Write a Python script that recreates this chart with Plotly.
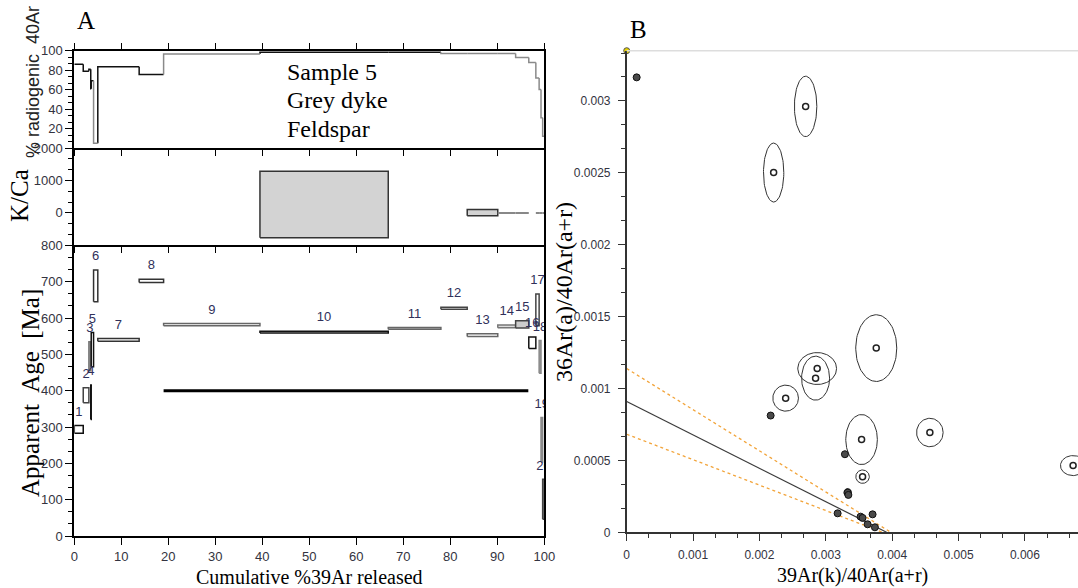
import numpy as np
import plotly.graph_objects as go

W, H = 1078, 588

# ---------------- Step-heating results: sample 5, grey dyke, feldspar ----------------
step_no = list(range(1, 21))
cum_start = [0.0, 1.9, 3.1, 3.5, 3.6, 4.1, 5.0, 13.8, 19.0, 39.5,
             66.8, 78.0, 83.6, 90.1, 93.9, 96.7, 98.2, 98.9, 99.3, 99.65]
cum_end = cum_start[1:] + [100.0]
age_ma = [293.5, 387.5, 495, 368.5, 513, 688.5, 540, 702.5, 582, 561.5,
          571.5, 627, 553, 577, 582.5, 532, 622.5, 493, 265, 101]
age_err = [10.5, 20.5, 40, 47.5, 47, 43.5, 4, 4.5, 3, 2.5,
           2.5, 3, 3.5, 4, 10, 15.5, 43.5, 45, 61, 55]
rad40_pct = [86, 79, 81, 61, 69, 5, 83.5, 75.5, 96.5, 98.5,
             98.5, 97, 97, 97, 93, 88, 72, 60, 31, 12]

# K/Ca for the steps where it could be determined
kca_steps = [10, 13, 14, 15, 17, 18, 19, 20]
kca_val = [260, 10, 0, 0, 0, 0, 0, 0]
kca_err = [1027, 95, 0, 0, 0, 0, 0, 0]

# plateau-style reference age
plateau_age = 400
plateau_from, plateau_to = 19.0, 96.6

# ---------------- Inverse isochron ----------------
atm_ratio = 1 / 298.56
# steps excluded from the regression (open symbols, 1-sigma ellipses)
excl_x = [0.002696, 0.002214, 0.002395, 0.00287, 0.002846, 0.00376, 0.003539, 0.004568, 0.003554, 0.006726]
excl_y = [0.002962, 0.002502, 0.000933, 0.001139, 0.001072, 0.001281, 0.000645, 0.000694, 0.000387, 0.000464]
excl_sx = [0.000169, 0.000153, 0.000193, 0.000292, 0.000211, 0.000309, 0.000238, 0.000200, 0.000102, 0.000190]
excl_sy = [0.000210, 0.000205, 0.0000905, 0.000111, 0.000153, 0.000232, 0.000174, 0.0000989, 0.0000467, 0.0000696]
# steps used in the regression (filled symbols)
incl_x = [0.00015, 0.002169, 0.003288, 0.00333, 0.00334, 0.003178, 0.003524, 0.003554, 0.003705, 0.00363, 0.00374]
incl_y = [0.003164, 0.000812, 0.000543, 0.000276, 0.00026, 0.000132, 0.000109, 0.0001, 0.000125, 0.0000557, 0.0000348]
incl_sx = [0, 0, 0, 0.0000573, 0, 0, 0, 0, 0, 0, 0]
incl_sy = [0, 0, 0, 0.0000292, 0, 0, 0, 0, 0, 0, 0]
# regression line and its confidence envelope: (y-intercept, x-intercept)
fit_line = (0.000910, 0.003916)
env_upper = (0.001139, 0.003980)
env_lower = (0.000682, 0.003855)

# ---------------- styling per step ----------------
box_line = ['#111', '#444', '#777', '#111', '#111', '#333', '#333', '#333', '#666', '#111',
            '#666', '#444', '#666', '#777', '#444', '#111', '#444', '#888', '#888', '#444']
box_fill = ['white', 'white', '#9a9a9a', 'white', 'white', 'white', 'white', 'white', 'white', 'white',
            'white', 'white', 'white', '#dcdcdc', '#cccccc', 'white', 'white', '#a0a0a0', '#a0a0a0', 'white']
rad_grey = {6, 9, 12, 13, 14, 15, 16, 17, 18, 19, 20}

SERIF = 'Liberation Serif, Times New Roman, serif'
SANS = 'Liberation Sans, Arial, sans-serif'
TICK_COL = '#333340'
LABEL_COL = '#30305a'

fig = go.Figure()

# --- age spectrum boxes ---
for i in range(len(step_no)):
    x0, x1 = cum_start[i], cum_end[i]
    lo, hi = age_ma[i] - age_err[i], age_ma[i] + age_err[i]
    fig.add_trace(go.Scatter(
        x=[x0, x1, x1, x0, x0], y=[lo, lo, hi, hi, lo], mode='lines',
        fill='toself', fillcolor=box_fill[i],
        line=dict(color=box_line[i], width=1.5), xaxis='x', yaxis='y',
        hoverinfo='skip', showlegend=False))

fig.add_trace(go.Scatter(x=[plateau_from, plateau_to], y=[plateau_age, plateau_age], mode='lines',
                         line=dict(color='black', width=3), xaxis='x', yaxis='y',
                         hoverinfo='skip', showlegend=False))

label_gap = 36
fig.add_trace(go.Scatter(
    x=[(a + b) / 2 for a, b in zip(cum_start, cum_end)],
    y=[a + e + label_gap for a, e in zip(age_ma, age_err)],
    text=[str(n) for n in step_no], mode='text', textposition='middle center',
    textfont=dict(family=SANS, size=13, color=LABEL_COL), cliponaxis=True,
    xaxis='x', yaxis='y', hoverinfo='skip', showlegend=False))

# --- K/Ca ---
for s, v, e in zip(kca_steps, kca_val, kca_err):
    i = s - 1
    x0, x1 = cum_start[i], cum_end[i]
    if e > 0:
        fig.add_trace(go.Scatter(
            x=[x0, x1, x1, x0, x0], y=[v - e, v - e, v + e, v + e, v - e], mode='lines',
            fill='toself', fillcolor='#d3d3d3', line=dict(color='#333', width=1.5),
            xaxis='x2', yaxis='y2', hoverinfo='skip', showlegend=False))
    else:
        fig.add_trace(go.Scatter(
            x=[x0, x1], y=[v, v], mode='lines', line=dict(color='#888', width=2),
            xaxis='x2', yaxis='y2', hoverinfo='skip', showlegend=False))

# --- % radiogenic 40Ar step line ---
for grey in (False, True):
    xs, ys = [], []
    for i in range(len(step_no)):
        if ((i + 1) in rad_grey) != grey:
            continue
        prev = rad40_pct[i - 1] if i > 0 else rad40_pct[i]
        xs += [cum_start[i], cum_start[i], cum_end[i], None]
        ys += [prev, rad40_pct[i], rad40_pct[i], None]
    fig.add_trace(go.Scatter(x=xs, y=ys, mode='lines',
                             line=dict(color='#8a8a8a' if grey else '#111', width=1.5),
                             xaxis='x3', yaxis='y3', hoverinfo='skip', showlegend=False))

# --- inverse isochron ---
t = np.linspace(0, 2 * np.pi, 90)
for cx, cy, sx, sy in list(zip(excl_x, excl_y, excl_sx, excl_sy)) + list(zip(incl_x, incl_y, incl_sx, incl_sy)):
    if sx <= 0:
        continue
    fig.add_trace(go.Scatter(x=cx + sx * np.cos(t), y=cy + sy * np.sin(t), mode='lines',
                             line=dict(color='#333', width=1), xaxis='x4', yaxis='y4',
                             hoverinfo='skip', showlegend=False))

for (yi, xi), col, dash, wd in [(env_upper, '#f2a43a', 'dot', 1.3),
                                (env_lower, '#f2a43a', 'dot', 1.3),
                                (fit_line, '#3a3a3a', 'solid', 1.2)]:
    fig.add_trace(go.Scatter(x=[0, xi], y=[yi, 0], mode='lines',
                             line=dict(color=col, width=wd, dash=dash), xaxis='x4', yaxis='y4',
                             hoverinfo='skip', showlegend=False))

fig.add_trace(go.Scatter(x=incl_x, y=incl_y, mode='markers',
                         marker=dict(size=7, color='#4a4a4a', line=dict(color='#111', width=1)),
                         xaxis='x4', yaxis='y4', hoverinfo='skip', showlegend=False))
fig.add_trace(go.Scatter(x=excl_x, y=excl_y, mode='markers',
                         marker=dict(size=6, color='white', line=dict(color='#222', width=1.5)),
                         xaxis='x4', yaxis='y4', hoverinfo='skip', showlegend=False))
fig.add_trace(go.Scatter(x=[0], y=[atm_ratio], mode='markers', cliponaxis=False,
                         marker=dict(size=6, color='#e6d200', line=dict(color='#555', width=1)),
                         xaxis='x4', yaxis='y4', hoverinfo='skip', showlegend=False))

# ---------------- axes ----------------
def px_x(p):
    return p / W


def px_y(p):
    return 1 - p / H


A_dom = [px_x(74.3), px_x(544.3)]
age_dom = [px_y(536), px_y(245.4)]
kca_dom = [px_y(245.4), px_y(148)]
rad_dom = [px_y(148), px_y(50.7)]
B_xdom = [px_x(626.7), 1.0]
B_ydom = [px_y(532.3), px_y(50.7)]

tickfont_a = dict(family=SANS, size=13, color=TICK_COL)
tickfont_b = dict(family=SANS, size=12, color=TICK_COL)
common = dict(showgrid=False, zeroline=False, showline=True, automargin=False)

fig.update_layout(
    template='none',
    width=W, height=H, margin=dict(l=0, r=0, t=0, b=0, pad=0, autoexpand=False),
    paper_bgcolor='white', plot_bgcolor='white', showlegend=False,
    xaxis=dict(domain=A_dom, anchor='y', range=[0, 100], tick0=0, dtick=10, ticks='outside',
               ticklen=7, tickcolor='black', linecolor='black', linewidth=2, tickfont=tickfont_a,
               **common),
    yaxis=dict(domain=age_dom, anchor='x', range=[0, 800], tick0=0, dtick=100, ticks='outside',
               ticklen=7, tickcolor='black', linecolor='black', linewidth=2, mirror=True,
               tickfont=tickfont_a,
               minor=dict(ticks='outside', ticklen=4, dtick=100 / 3, tick0=0, tickcolor='black'),
               **common),
    xaxis2=dict(domain=A_dom, anchor='y2', range=[0, 100], tick0=0, dtick=10, ticks='outside',
                ticklen=6, tickcolor='black', linecolor='black', linewidth=1.5,
                showticklabels=False, **common),
    yaxis2=dict(domain=kca_dom, anchor='x2', range=[-1000, 2000], tickvals=[0, 1000, 2000],
                ticks='outside', ticklen=7, tickcolor='black', linecolor='black', linewidth=2,
                mirror=True, tickfont=tickfont_a,
                minor=dict(ticks='outside', ticklen=4, dtick=1000 / 3, tick0=0, tickcolor='black'),
                **common),
    xaxis3=dict(domain=A_dom, anchor='y3', range=[0, 100], tick0=0, dtick=10, ticks='outside',
                ticklen=6, tickcolor='black', linecolor='black', linewidth=1.5, mirror='ticks',
                showticklabels=False, **common),
    yaxis3=dict(domain=rad_dom, anchor='x3', range=[0, 100], tickvals=[20, 40, 60, 80, 100],
                ticks='outside', ticklen=7, tickcolor='black', linecolor='black', linewidth=2,
                mirror=True, tickfont=tickfont_a,
                minor=dict(ticks='outside', ticklen=4, dtick=20 / 3, tick0=0, tickcolor='black'),
                **common),
    xaxis4=dict(domain=B_xdom, anchor='y4', range=[0, 0.0068], tick0=0, dtick=0.001,
                ticks='outside', ticklen=7, tickcolor='#333', linewidth=1.5, linecolor='#333',
                tickfont=tickfont_b, ticklabelstandoff=4,
                minor=dict(ticks='outside', ticklen=4, dtick=0.001 / 3, tick0=0, tickcolor='#333'),
                **common),
    yaxis4=dict(domain=B_ydom, anchor='x4', range=[0, atm_ratio], tick0=0, dtick=0.0005,
                ticks='outside', ticklen=7, tickcolor='#333', linewidth=1.5, linecolor='#333',
                tickfont=tickfont_b, ticklabelstandoff=5,
                minor=dict(ticks='outside', ticklen=4, dtick=0.0005 / 3, tick0=0, tickcolor='#333'),
                **common),
)

# light top border of the isochron panel
fig.add_shape(type='line', xref='x4 domain', yref='y4 domain', x0=0, x1=1, y0=1, y1=1,
              line=dict(color='#dddddd', width=1.5))


def note(text, x, y, size, family=SERIF, angle=0, xanchor='center', color='black'):
    fig.add_annotation(text=text, x=px_x(x), y=px_y(y), xref='paper', yref='paper',
                       showarrow=False, textangle=angle, xanchor=xanchor, yanchor='middle',
                       font=dict(family=family, size=size, color=color))


note('A', 86, 20, 25)
note('B', 638, 30, 25)
note('Sample 5', 285, 72, 24, xanchor='left')
note('Grey dyke', 285, 100, 24, xanchor='left')
note('Feldspar', 285, 129, 24, xanchor='left')
note('% radiogenic  40Ar', 33, 82, 18, family=SANS, angle=-90, color='#222')
note('K/Ca', 20, 196, 25, angle=-90)
note('Apparent  Age  [Ma]', 30, 393, 25, angle=-90)
note('Cumulative %39Ar released', 309, 577, 20)
note('36Ar(a)/40Ar(a+r)', 564, 292, 24, angle=-90)
note('39Ar(k)/40Ar(a+r)', 852, 575, 20)

fig.write_html('out.html')
